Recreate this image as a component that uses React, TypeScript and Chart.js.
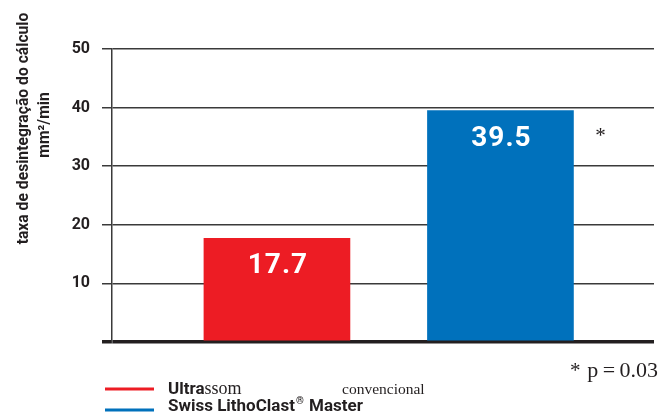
import React, { useEffect, useRef } from 'react';
import { Chart, registerables } from 'chart.js';

Chart.register(...registerables);

// ---- data ----
const categories = ['Ultrassom convencional', 'Swiss LithoClast® Master'];
const values = [17.7, 39.5];
const barColors = ['#ED1C24', '#0071BC'];
const yTicks = [0, 10, 20, 30, 40, 50];
const yTitleLines = ['taxa de desintegração do cálculo', 'mm²/min'];
const significanceMark = '*';
const pValueText = 'p\u2009=\u20090.03';

const INK = '#231f20';
const SANS = 'Roboto, "Liberation Sans", sans-serif';
const SERIF = '"Liberation Serif", "DejaVu Serif", serif';

const annotations = {
  id: 'annotations',
  afterDatasetsDraw(chart: any) {
    const { ctx, chartArea } = chart;
    const meta = chart.getDatasetMeta(0);
    ctx.save();

    // value labels inside bars
    ctx.fillStyle = '#ffffff';
    ctx.font = `bold 28px ${SANS}`;
    ctx.textAlign = 'center';
    ctx.textBaseline = 'middle';
    (ctx as any).letterSpacing = '1px';
    meta.data.forEach((bar: any, i: number) => {
      ctx.fillText(values[i].toFixed(1), bar.x + 1, bar.y + 28);
    });
    (ctx as any).letterSpacing = '0px';

    // significance asterisk beside the tallest bar
    const top = meta.data[1];
    ctx.fillStyle = INK;
    ctx.font = `21px ${SERIF}`;
    ctx.textBaseline = 'alphabetic';
    ctx.textAlign = 'center';
    ctx.fillText(significanceMark, top.x + top.width / 2 + 27, top.y + 31);

    // p-value note
    ctx.textAlign = 'left';
    ctx.font = `21px ${SERIF}`;
    ctx.fillText(significanceMark, 570, chartArea.bottom + 35);
    ctx.font = `22px ${SERIF}`;
    ctx.textAlign = 'right';
    ctx.fillText(pValueText, 658, chartArea.bottom + 35);

    // y-axis title (two rotated lines)
    ctx.fillStyle = INK;
    ctx.font = `bold 15.7px ${SANS}`;
    ctx.textAlign = 'center';
    ctx.textBaseline = 'alphabetic';
    const titlePos = [
      [28, 128.5],
      [49, 125],
    ];
    yTitleLines.forEach((line, i) => {
      ctx.save();
      ctx.translate(titlePos[i][0], titlePos[i][1]);
      ctx.rotate(-Math.PI / 2);
      ctx.fillText(line, 0, 0);
      ctx.restore();
    });

    // legend
    const legendY = [389, 410];
    categories.forEach((name, i) => {
      ctx.strokeStyle = barColors[i];
      ctx.lineWidth = 3;
      ctx.beginPath();
      ctx.moveTo(105, legendY[i]);
      ctx.lineTo(154, legendY[i]);
      ctx.stroke();
    });
    ctx.fillStyle = INK;
    ctx.textAlign = 'left';
    ctx.textBaseline = 'alphabetic';
    // first entry: typeset as in the source (mixed faces)
    const words0 = categories[0].split(' ');
    ctx.font = `bold 17px ${SANS}`;
    const head = words0[0].slice(0, 5);
    ctx.fillText(head, 168, 394);
    const w = ctx.measureText(head).width;
    ctx.font = `18px ${SERIF}`;
    ctx.fillText(words0[0].slice(5), 168 + w, 394);
    ctx.font = `15.5px ${SERIF}`;
    ctx.fillText(words0[1], 342, 394);
    // second entry with superscript ®
    const parts = categories[1].split('®');
    ctx.font = `bold 17px ${SANS}`;
    let x = 168;
    ctx.fillText(parts[0], x, 411);
    x += ctx.measureText(parts[0]).width;
    ctx.font = `bold 10px ${SANS}`;
    ctx.fillText('®', x + 1, 404);
    x += ctx.measureText('®').width + 2;
    ctx.font = `bold 17px ${SANS}`;
    ctx.fillText(parts[1], x, 411);

    ctx.restore();
  },
};

export default function App() {
  const ref = useRef<HTMLCanvasElement | null>(null);

  useEffect(() => {
    if (!ref.current) return;
    const chart = new Chart(ref.current, {
      type: 'bar',
      data: {
        datasets: [
          {
            data: values.map((v, i) => ({ x: i, y: v })),
            backgroundColor: barColors,
            borderWidth: 0,
            barThickness: 146,
          },
        ],
      },
      options: {
        responsive: false,
        animation: false,
        devicePixelRatio: 1,
        layout: { padding: { top: 49, right: 5, bottom: 70, left: 0 } },
        plugins: {
          legend: { display: false },
          tooltip: { enabled: false },
        },
        scales: {
          x: {
            type: 'linear',
            display: false,
            offset: false,
            min: -0.738,
            max: 1.687,
          },
          y: {
            min: 0,
            max: 50,
            afterBuildTicks: (scale: any) => {
              scale.ticks = yTicks.map((v) => ({ value: v }));
            },
            afterFit: (scale: any) => {
              scale.width = 112;
            },
            ticks: {
              callback: (v: any) => (v === 0 ? '' : String(v)),
              font: { family: SANS, weight: 'bold', size: 16 },
              color: INK,
              padding: 12,
            },
            grid: {
              color: (c: any) => (c.tick && c.tick.value === 0 ? INK : '#3a3a3a'),
              lineWidth: (c: any) => (c.tick && c.tick.value === 0 ? 3.5 : 1.5),
              tickLength: 10,
              drawTicks: true,
            },
            border: { display: true, color: '#3a3a3a', width: 1.5 },
          },
        },
      },
      plugins: [annotations],
    });
    return () => chart.destroy();
  }, []);

  return (
    <div style={{ position: 'absolute', left: 0, top: 0, width: 659, height: 412, background: '#fff' }}>
      <canvas ref={ref} width={659} height={412} style={{ display: 'block' }} />
    </div>
  );
}
